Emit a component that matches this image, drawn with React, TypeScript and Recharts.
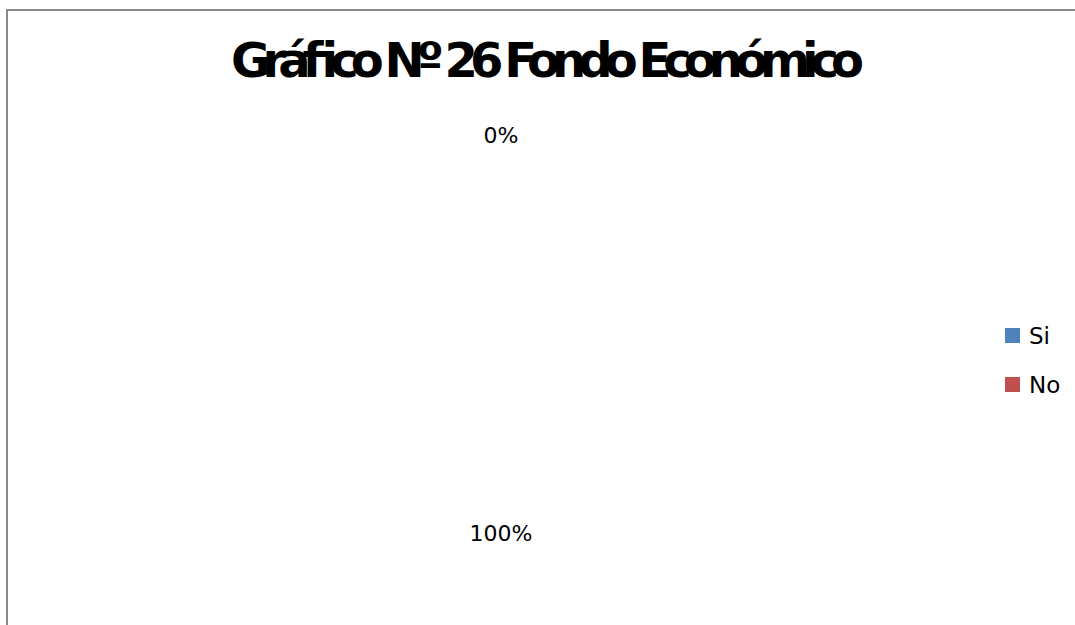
import React from 'react';
import { PieChart, Pie, Cell, Legend } from 'recharts';

// datos del gráfico
const categories = ['Si', 'No'];
const values = [0, 100];
const colors = ['#4F81BD', '#C0504D'];
const title = 'Gráfico Nº 26 Fondo Económico';

const data = categories.map((name, i) => ({ name, value: values[i] }));

const RADIAN = Math.PI / 180;
const FONT = '"DejaVu Sans", sans-serif';

const renderLabel = ({ cx, cy, midAngle, percent }: any) => {
  const r = 199;
  const x = cx + r * Math.cos(-midAngle * RADIAN);
  const y = cy + r * Math.sin(-midAngle * RADIAN);
  return (
    <text x={x} y={y} textAnchor="middle" dominantBaseline="central"
      fontSize={22} fontFamily={FONT} fill="#000">
      {`${Math.round(percent * 100)}%`}
    </text>
  );
};

const LegendContent = () => (
  <div style={{ fontFamily: FONT, fontSize: 23, color: '#000' }}>
    {categories.map((c, i) => (
      <div key={c} style={{ display: 'flex', alignItems: 'center', height: 49 }}>
        <div style={{ width: 15, height: 15, background: colors[i], marginRight: 9 }} />
        <span>{c}</span>
      </div>
    ))}
  </div>
);

export default function App() {
  return (
    <div style={{ position: 'fixed', left: 0, top: 0, width: 1075, height: 625, overflow: 'hidden', background: '#fff' }}>
      <div style={{ position: 'absolute', left: 6, top: 9, width: 1200, height: 800, border: '2px solid #8a8a8a' }} />
      <svg width={1075} height={100} style={{ position: 'absolute', left: 0, top: 0 }}>
        <text x={231} y={77} textLength={633} lengthAdjust="spacing"
          fontFamily={FONT} fontWeight="bold" fontSize={48} fill="#000">
          {title}
        </text>
      </svg>
      <div style={{ position: 'absolute', left: 0, top: 0 }}>
        <PieChart width={1075} height={625}>
          <Pie data={data} dataKey="value" nameKey="name" cx={496} cy={329}
            outerRadius={160} startAngle={90} endAngle={-270}
            stroke="none" fillOpacity={0} labelLine={false} label={renderLabel}
            isAnimationActive={false}>
            {data.map((d, i) => <Cell key={d.name} fill={colors[i]} fillOpacity={0} />)}
          </Pie>
          <Legend content={<LegendContent />}
            wrapperStyle={{ position: 'absolute', left: 1005, top: 311, width: 70 }} />
        </PieChart>
      </div>
    </div>
  );
}
